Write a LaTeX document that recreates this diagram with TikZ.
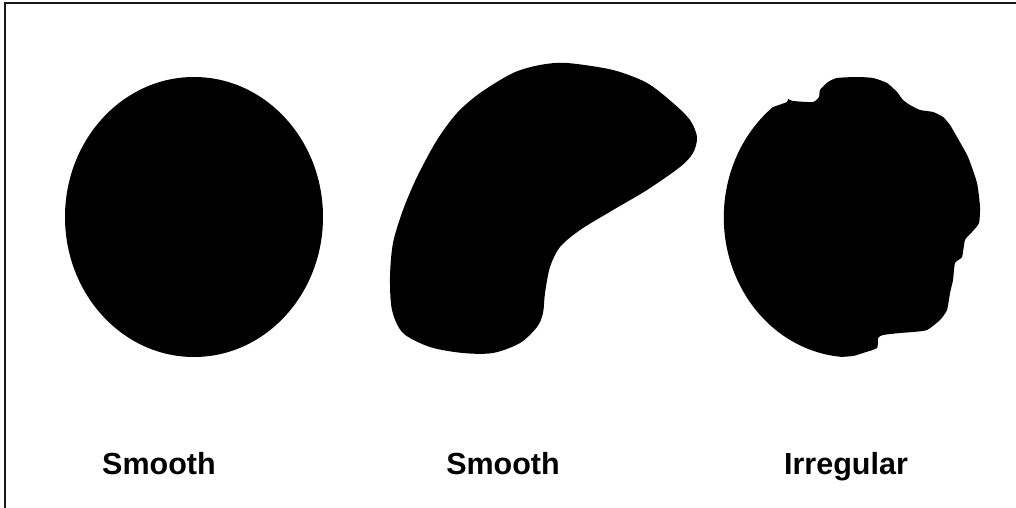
\documentclass[tikz,border=0pt]{standalone}
\usepackage{fontspec}
\setmainfont{Liberation Sans}
\begin{document}
\begin{tikzpicture}[x=1pt,y=-1pt,
  blob/.style={fill=black,draw=none},
  lab/.style={anchor=base,inner sep=0pt,font=\fontsize{30.5}{36}\selectfont\bfseries}]
\useasboundingbox (0,0) rectangle (1016,508);
\fill[white] (0,0) rectangle (1016,508);
% frame (top and left only)
\draw[line width=2pt,black!90] (5,508) -- (5,3) -- (1016,3);
% ellipse
\fill[blob] (194,217) ellipse[x radius=129,y radius=140];
% bean-shaped blob
\fill[blob] plot[smooth cycle] coordinates {
 (567,63) (613,70) (647,83) (673,103) (690,120) (697,137) (693,153) (680,167)
 (647,190) (613,210) (580,230) (560,247) (550,267) (545,293) (543,313) (537,327)
 (520,343) (493,353) (463,353) (430,347) (403,333) (392,310) (390,277) (393,243)
 (403,210) (417,177) (437,140) (457,113) (480,93) (513,73) (540,65)};
% irregular shape
\fill[blob] (773,107) arc[start angle=232,end angle=95,x radius=128,y radius=140]
 -- plot[smooth,tension=0.35] coordinates {
 (840,357) (853,356) (863,353) (877,348) (878,338) (883,335) (900,333) (913,332)
 (927,330) (940,320) (947,310) (950,293) (953,280) (955,263) (962,257) (965,240)
 (972,232) (979,223) (980,207) (977,183) (968,157) (957,137) (950,125) (943,117)
 (933,112) (920,110) (910,105) (903,100) (897,92) (887,83) (873,78) (857,77)
 (837,78) (828,82) (820,90) (819,97) (813,102) (793,101) (788,99) (787,102) (773,107)}
 -- cycle;
% labels
\node[lab] (l1) at (159,474) {Smooth};
\node[lab] (l2) at (503,474) {Smooth};
\node[lab] (l3) at (846,474) {Irregular};
\end{tikzpicture}
\end{document}
